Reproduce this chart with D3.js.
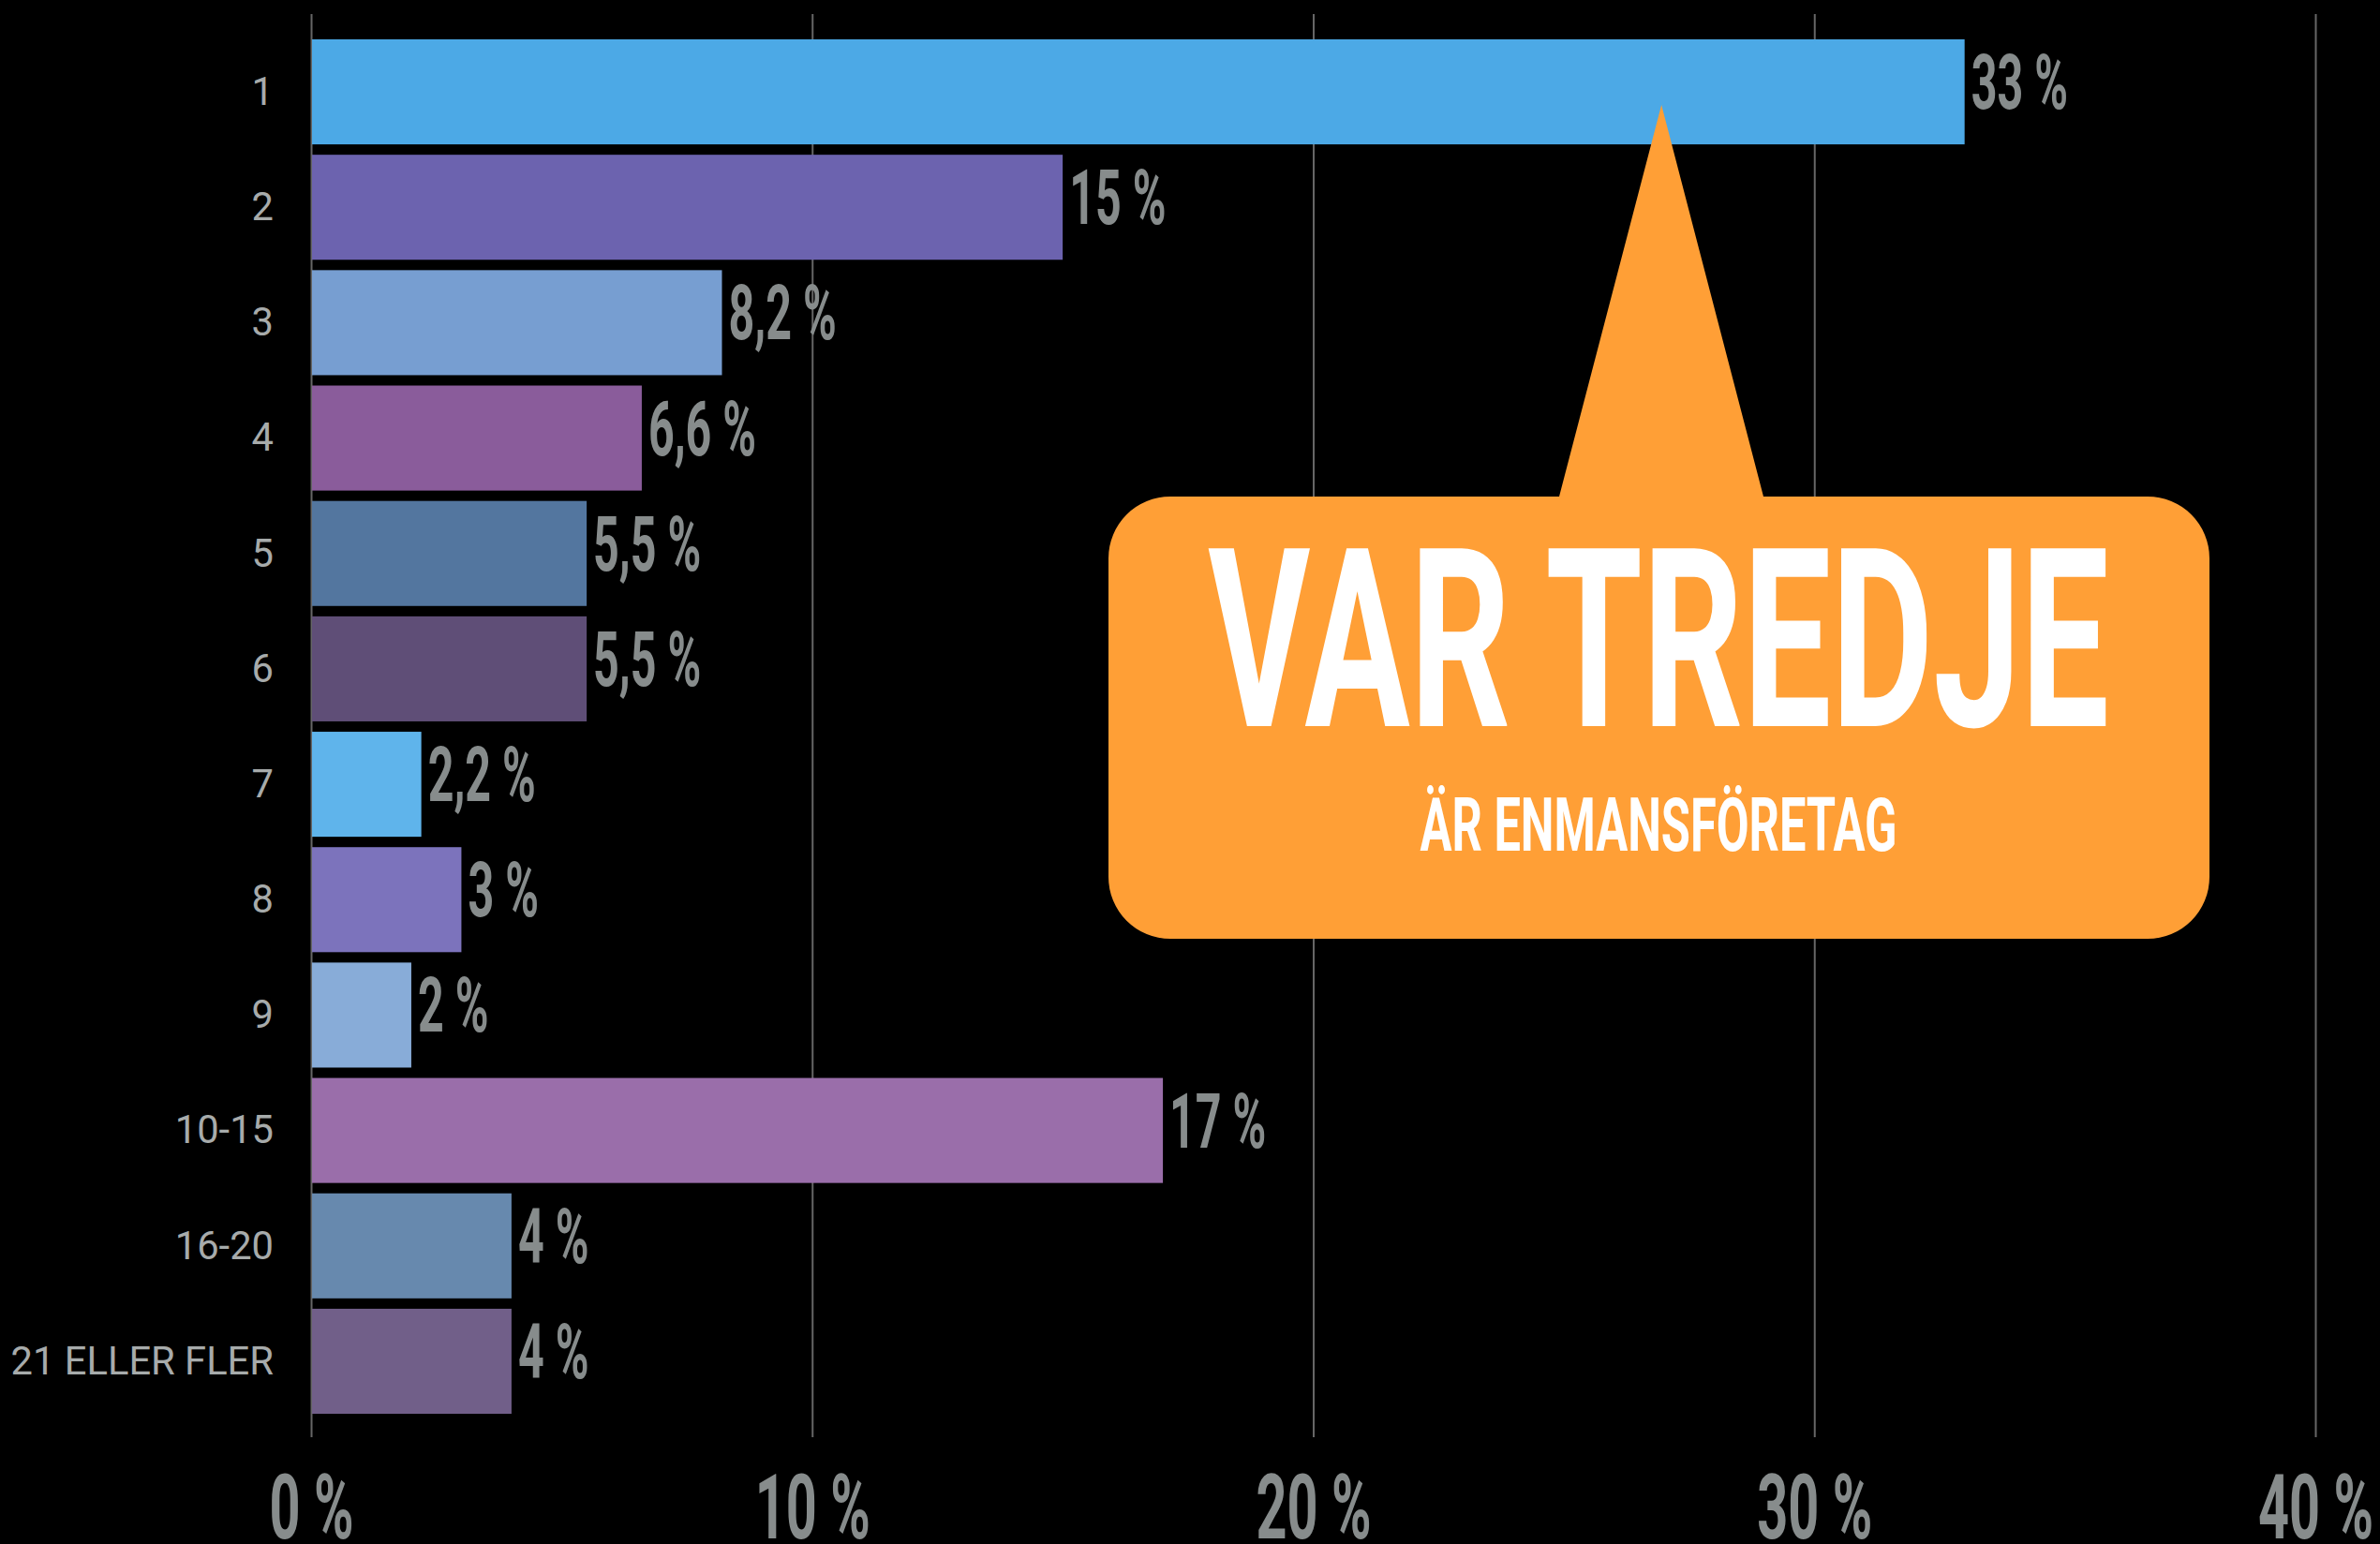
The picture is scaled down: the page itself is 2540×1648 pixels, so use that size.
<!DOCTYPE html>
<html>
<head>
<meta charset="utf-8">
<script src="https://cdn.jsdelivr.net/npm/d3@7"></script>
<style>
  html, body { margin: 0; padding: 0; background: #000; }
  svg { display: block; }
</style>
</head>
<body>
<div id="chart"></div>
<script>
var categories = ["1", "2", "3", "4", "5", "6", "7", "8", "9", "10-15", "16-20", "21 ELLER FLER"];
var values = [33, 15, 8.2, 6.6, 5.5, 5.5, 2.2, 3, 2, 17, 4, 4];
var valueLabels = ["33 %", "15 %", "8,2 %", "6,6 %", "5,5 %", "5,5 %", "2,2 %", "3 %", "2 %", "17 %", "4 %", "4 %"];
var barColors = ["#4ca9e6", "#6c63af", "#779ed1", "#8a5c9b", "#53769f", "#5f4e77",
                 "#5fb4eb", "#7c73bc", "#88acd8", "#9a6eaa", "#6789ae", "#715f89"];
var xTicks = [0, 10, 20, 30, 40];
var tickLabels = ["0 %", "10 %", "20 %", "30 %", "40 %"];
var calloutTitle = "VAR TREDJE";
var calloutSub = "ÄR ENMANSFÖRETAG";

var width = 2540, height = 1648;
var gridTop = 15, gridBottom = 1534;

var svg = d3.select('#chart')
    .append('svg')
    .attr('width', width)
    .attr('height', height);

var x = d3.scaleLinear()
    .domain([0, 40])
    .range([332, 2471]);

var y = d3.scaleBand()
    .domain(categories)
    .range([42, 1509])
    .paddingInner(0.09)
    .paddingOuter(0);

// gridlines + bottom tick labels
var xAxis = svg.append('g')
    .attr('transform', 'translate(0,' + gridBottom + ')')
    .call(d3.axisBottom(x)
        .tickValues(xTicks)
        .tickSize(-(gridBottom - gridTop))
        .tickFormat(function(d, i) { return tickLabels[i]; }));

xAxis.select('.domain').remove();
xAxis.selectAll('line')
    .attr('stroke', '#666')
    .attr('stroke-width', 2);
xAxis.selectAll('text')
    .attr('y', 108)
    .attr('dy', 0)
    .attr('fill', '#878c8c')
    .attr('font-family', 'Roboto, sans-serif')
    .attr('font-weight', 700)
    .attr('font-size', 96)
    .attr('transform', 'scale(0.6,1)');

// bars
svg.append('g')
    .selectAll('rect')
    .data(values)
    .join('rect')
    .attr('x', x(0) + 1)
    .attr('y', function(d, i) { return y(categories[i]); })
    .attr('width', function(d) { return x(d) - x(0) - 1; })
    .attr('height', y.bandwidth())
    .attr('fill', function(d, i) { return barColors[i]; });

// category labels
var labelScale = 0.97;
var yAxis = svg.append('g')
    .attr('transform', 'translate(' + x(0) + ',0)')
    .call(d3.axisLeft(y).tickSize(0));

yAxis.select('.domain').remove();
yAxis.selectAll('text')
    .attr('x', -40 / labelScale)
    .attr('fill', '#a7abab')
    .attr('font-family', 'Roboto, sans-serif')
    .attr('font-size', 43)
    .attr('transform', 'scale(' + labelScale + ',1)');

// value labels
svg.append('g')
    .selectAll('g')
    .data(values)
    .join('g')
    .attr('transform', function(d, i) {
        return 'translate(' + (x(d) + 7) + ',' + (y(categories[i]) + y.bandwidth() / 2 + 18) + ') scale(0.59,1)';
    })
    .append('text')
    .attr('fill', '#878c8c')
    .attr('font-family', 'Roboto, sans-serif')
    .attr('font-weight', 700)
    .attr('font-size', 82)
    .text(function(d, i) { return valueLabels[i]; });

// callout bubble
var box = {left: 1183, right: 2358, top: 530, bottom: 1002, r: 66};
var tip = {x: x(26.95), y: 112, baseLeft: 1664, baseRight: 1882};

var p = d3.path();
p.moveTo(box.left + box.r, box.top);
p.lineTo(tip.baseLeft, box.top);
p.lineTo(tip.x, tip.y);
p.lineTo(tip.baseRight, box.top);
p.lineTo(box.right - box.r, box.top);
p.arcTo(box.right, box.top, box.right, box.top + box.r, box.r);
p.lineTo(box.right, box.bottom - box.r);
p.arcTo(box.right, box.bottom, box.right - box.r, box.bottom, box.r);
p.lineTo(box.left + box.r, box.bottom);
p.arcTo(box.left, box.bottom, box.left, box.bottom - box.r, box.r);
p.lineTo(box.left, box.top + box.r);
p.arcTo(box.left, box.top, box.left + box.r, box.top, box.r);
p.closePath();

svg.append('path')
    .attr('d', p.toString())
    .attr('fill', '#ff9f36');

svg.append('g')
    .attr('transform', 'translate(1770,775) scale(0.627,1)')
    .append('text')
    .attr('text-anchor', 'middle')
    .attr('fill', '#fff')
    .attr('font-family', 'Roboto, sans-serif')
    .attr('font-weight', 700)
    .attr('font-size', 267)
    .text(calloutTitle);

svg.append('g')
    .attr('transform', 'translate(1770,908) scale(0.64,1)')
    .append('text')
    .attr('text-anchor', 'middle')
    .attr('fill', '#fff')
    .attr('font-family', 'Roboto, sans-serif')
    .attr('font-weight', 700)
    .attr('font-size', 79)
    .text(calloutSub);
</script>
</body>
</html>
